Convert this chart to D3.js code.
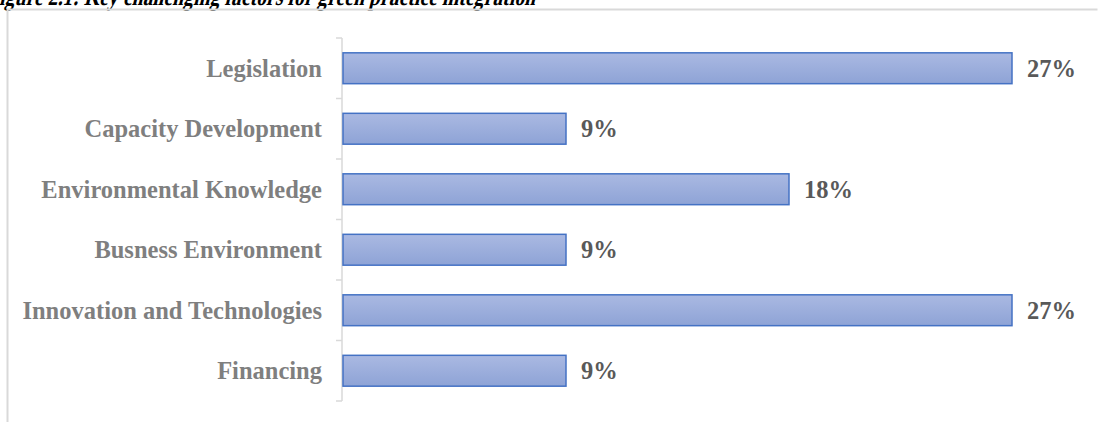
<!DOCTYPE html>
<html>
<head>
<meta charset="utf-8">
<script src="https://cdn.jsdelivr.net/npm/d3@7"></script>
<style>
  html, body { margin: 0; padding: 0; background: #fff; }
  svg { display: block; }
</style>
</head>
<body>
<svg id="chart" width="1098" height="422"></svg>
<script>
// Challenge categories, top to bottom, and their shares (%)
const categories = [
  "Legislation",
  "Capacity Development",
  "Environmental Knowledge",
  "Busness Environment",
  "Innovation and Technologies",
  "Financing"
];
const shares = [27, 9, 18, 9, 27, 9];
const valueLabels = ["27%", "9%", "18%", "9%", "27%", "9%"];
const titleText = "Figure 2.1: Key challenging factors for green practice integration";

const serif = "'Liberation Serif', 'Times New Roman', serif";
const svg = d3.select("#chart");
const W = 1098, H = 422;

// Caption above the chart frame (slanted, condensed serif bold)
svg.append("text")
  .attr("transform", "translate(-13,5) skewX(-14)")
  .attr("font-family", serif)
  .attr("font-weight", "bold")
  .attr("font-size", 26)
  .attr("textLength", 548)
  .attr("lengthAdjust", "spacingAndGlyphs")
  .attr("fill", "#000")
  .text(titleText);

// Chart frame (top and left edges visible)
svg.append("path")
  .attr("d", `M7.5,${H} V9.5 H1097.5`)
  .attr("fill", "none")
  .attr("stroke", "#d9d9d9")
  .attr("stroke-width", 2);

const defs = svg.append("defs");
const grad = defs.append("linearGradient")
  .attr("id", "barFill").attr("x1", 0).attr("y1", 0).attr("x2", 0).attr("y2", 1);
grad.append("stop").attr("offset", "0%").attr("stop-color", "#aab9e2");
grad.append("stop").attr("offset", "100%").attr("stop-color", "#8ea3d6");

const x = d3.scaleLinear().domain([0, 27]).range([343, 1012]);
const y = d3.scaleBand().domain(categories).range([38, 401]).paddingInner(0.49).paddingOuter(0.245);

// Category axis with tick marks between bands
const boundaries = d3.range(categories.length + 1).map(i => 38 + i * (363 / categories.length));
const axisG = svg.append("g");
axisG.append("line")
  .attr("x1", 342).attr("x2", 342)
  .attr("y1", boundaries[0]).attr("y2", boundaries[boundaries.length - 1])
  .attr("stroke", "#d9d9d9").attr("stroke-width", 1.5);
axisG.selectAll("line.tick").data(boundaries).join("line")
  .attr("class", "tick")
  .attr("x1", 336).attr("x2", 342)
  .attr("y1", d => d).attr("y2", d => d)
  .attr("stroke", "#d9d9d9").attr("stroke-width", 1.5);

axisG.selectAll("text.cat").data(categories).join("text")
  .attr("class", "cat")
  .attr("x", 322)
  .attr("y", d => y(d) + y.bandwidth() / 2)
  .attr("dy", "0.35em")
  .attr("text-anchor", "end")
  .attr("font-family", serif)
  .attr("font-weight", "bold")
  .attr("font-size", 24.5)
  .attr("fill", "#7f7f7f")
  .text(d => d);

// Bars
const data = categories.map((c, i) => ({ c, v: shares[i], label: valueLabels[i] }));
svg.selectAll("rect.bar").data(data).join("rect")
  .attr("class", "bar")
  .attr("x", x(0))
  .attr("y", d => y(d.c))
  .attr("width", d => x(d.v) - x(0))
  .attr("height", y.bandwidth())
  .attr("fill", "url(#barFill)")
  .attr("stroke", "#4472c4")
  .attr("stroke-width", 1.5);

// Value labels
svg.selectAll("text.val").data(data).join("text")
  .attr("class", "val")
  .attr("x", d => x(d.v) + 15)
  .attr("y", d => y(d.c) + y.bandwidth() / 2)
  .attr("dy", "0.35em")
  .attr("font-family", serif)
  .attr("font-weight", "bold")
  .attr("font-size", 24.5)
  .attr("fill", "#595959")
  .text(d => d.label);
</script>
</body>
</html>
